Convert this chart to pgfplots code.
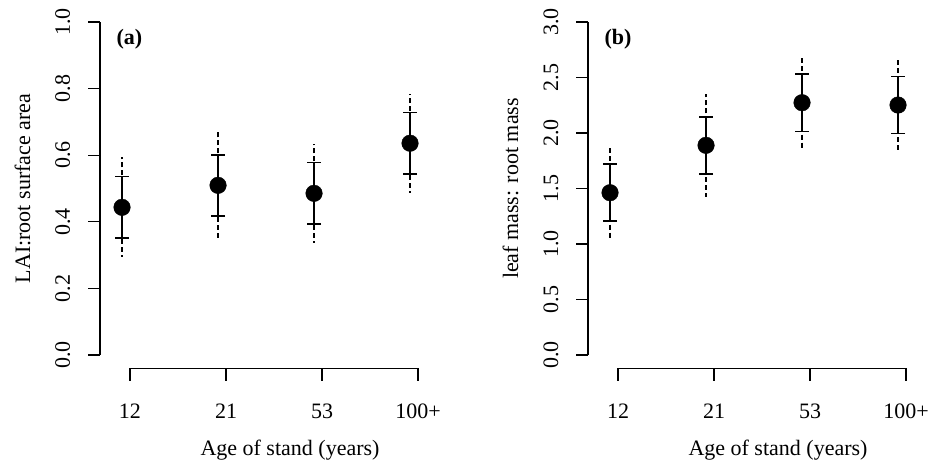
\documentclass[border=0pt]{standalone}
\usepackage{pgfplots}
\pgfplotsset{compat=1.18}
\usepackage{pgfplotstable}
\usepackage{fontspec}
\setmainfont{Liberation Serif}

% x = position (category 1..4, drawn a little left of the tick)
% y = mean, lo/hi = inner bar, dlo/dhi = outer dashed bar
\pgfplotstableread{
x     y      lo     hi     dlo    dhi
0.917 0.4435 0.351  0.535  0.295  0.594
1.917 0.5095 0.417  0.601  0.347  0.673
2.917 0.4855 0.393  0.5775 0.335  0.634
3.917 0.636  0.544  0.728  0.487  0.784
}\lai

\pgfplotstableread{
x     y      lo     hi     dlo    dhi
0.917 1.462  1.207  1.721  1.042  1.883
1.917 1.889  1.631  2.144  1.420  2.348
2.917 2.273  2.015  2.532  1.847  2.694
3.917 2.252  1.994  2.510  1.829  2.673
}\mass

\pgfplotsset{
  rplot/.style={
    scale only axis, width=380pt, height=359.6pt,
    anchor=north west,
    xmin=0.6875, xmax=4.6458,
    axis line style={draw=none},
    major tick length=0pt,
    xtick={1,2,3,4}, xticklabels={12,21,53,100+},
    xticklabel style={anchor=base, yshift=-49.7pt},
    yticklabel style={xshift=-30pt, rotate=90, anchor=base},
    xlabel style={at={(axis description cs:0.5,0)}, anchor=base, yshift=-86.7pt},
    ylabel style={at={(axis description cs:-0.184,0.5)}, anchor=base},
    xlabel={Age of stand (years)},
    clip=false,
  },
  dashbar/.style={only marks, mark=none,
    error bars/.cd, y dir=both, y explicit, error mark=none,
    error bar style={line width=1.3pt, dash pattern=on 5pt off 3pt}},
  solidbar/.style={only marks, mark=*, mark size=8.3pt, black,
    error bars/.cd, y dir=both, y explicit, error mark=|,
    error mark options={mark size=7pt, line width=1.3pt},
    error bar style={line width=1.3pt, solid}},
}

\begin{document}
\fontsize{22}{26}\selectfont
\begin{tikzpicture}
\useasboundingbox (0,0) rectangle (930pt,-466pt);

% panel (a)
\begin{axis}[rplot, at={(100pt,-8.7pt)},
    ymin=-0.04, ymax=1.04,
    ytick={0,0.2,0.4,0.6,0.8,1}, yticklabels={0.0,0.2,0.4,0.6,0.8,1.0},
    ylabel={LAI:root surface area}]
  \addplot[dashbar] table[x=x, y=y, y error plus expr=\thisrow{dhi}-\thisrow{y},
      y error minus expr=\thisrow{y}-\thisrow{dlo}] {\lai};
  \addplot[solidbar] table[x=x, y=y, y error plus expr=\thisrow{hi}-\thisrow{y},
      y error minus expr=\thisrow{y}-\thisrow{lo}] {\lai};
  \draw[line width=1.3pt] (axis cs:1,-0.04) -- (axis cs:4,-0.04);
  \pgfplotsinvokeforeach{1,2,3,4}{\draw[line width=1.3pt] (axis cs:#1,-0.04) -- ([yshift=-13pt]axis cs:#1,-0.04);}
  \draw[line width=1.3pt] (axis cs:0.6875,0) -- (axis cs:0.6875,1);
  \pgfplotsinvokeforeach{0,0.2,0.4,0.6,0.8,1}{\draw[line width=1.3pt] (axis cs:0.6875,#1) -- ([xshift=-12pt]axis cs:0.6875,#1);}
  \node[anchor=base west, font=\bfseries] at (axis cs:0.781,0.931) {(a)};
\end{axis}

% panel (b)
\begin{axis}[rplot, at={(588pt,-8.7pt)},
    ymin=-0.12, ymax=3.12,
    ytick={0,0.5,1,1.5,2,2.5,3}, yticklabels={0.0,0.5,1.0,1.5,2.0,2.5,3.0},
    ylabel={leaf mass: root mass}]
  \addplot[dashbar] table[x=x, y=y, y error plus expr=\thisrow{dhi}-\thisrow{y},
      y error minus expr=\thisrow{y}-\thisrow{dlo}] {\mass};
  \addplot[solidbar] table[x=x, y=y, y error plus expr=\thisrow{hi}-\thisrow{y},
      y error minus expr=\thisrow{y}-\thisrow{lo}] {\mass};
  \draw[line width=1.3pt] (axis cs:1,-0.12) -- (axis cs:4,-0.12);
  \pgfplotsinvokeforeach{1,2,3,4}{\draw[line width=1.3pt] (axis cs:#1,-0.12) -- ([yshift=-13pt]axis cs:#1,-0.12);}
  \draw[line width=1.3pt] (axis cs:0.6875,0) -- (axis cs:0.6875,3);
  \pgfplotsinvokeforeach{0,0.5,1,1.5,2,2.5,3}{\draw[line width=1.3pt] (axis cs:0.6875,#1) -- ([xshift=-12pt]axis cs:0.6875,#1);}
  \node[anchor=base west, font=\bfseries] at (axis cs:0.781,2.793) {(b)};
\end{axis}
\end{tikzpicture}
\end{document}
